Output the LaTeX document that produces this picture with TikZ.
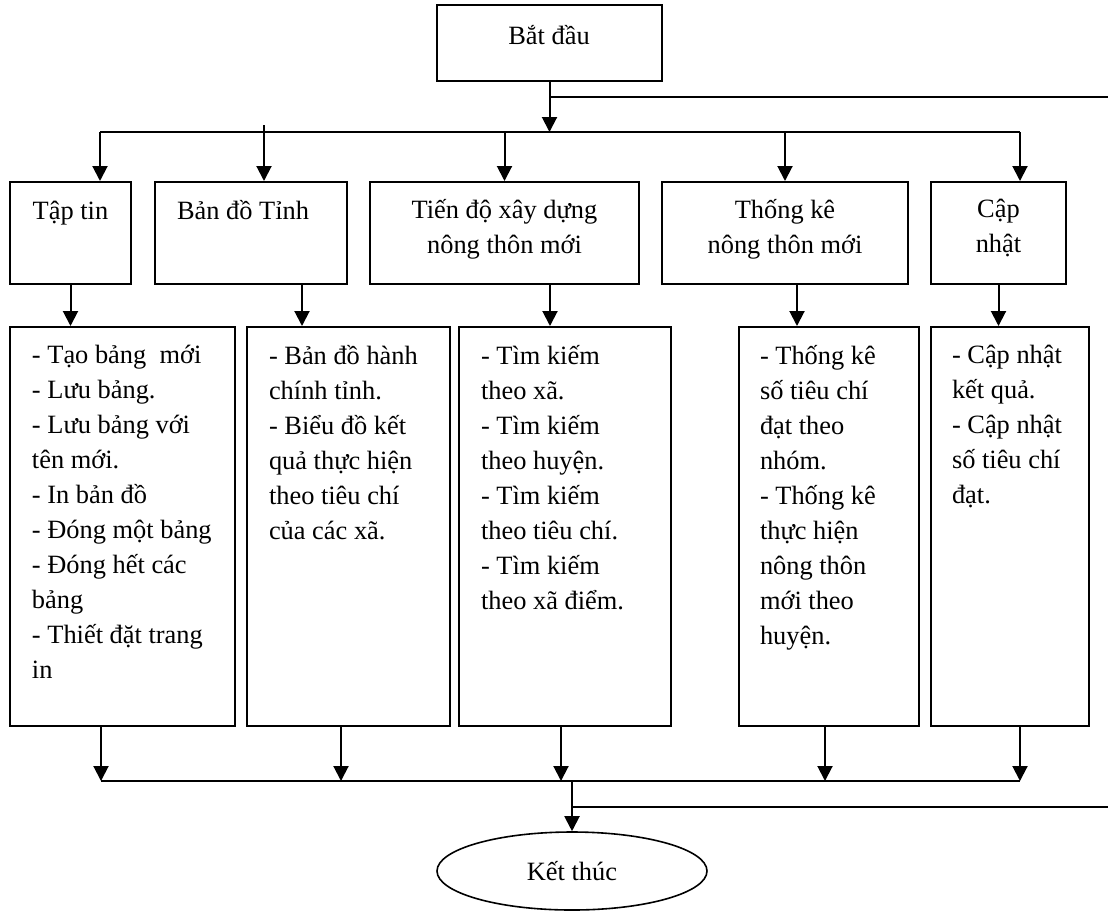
\documentclass[tikz,border=0pt]{standalone}
\usepackage{fontspec}
\setmainfont{Liberation Serif}
\usetikzlibrary{arrows.meta,shapes.geometric}

\tikzset{
  khung/.style={draw,inner sep=0pt},
  hang2/.style={khung,minimum height=51pt},
  hang3/.style={khung,minimum height=199.5pt},
  chu/.style={inner sep=0pt,font=\fontsize{13.2}{17.5}\selectfont,execute at begin node=\strut},
}

\begin{document}
\begin{tikzpicture}[x=0.5pt,y=-0.5pt,line width=1pt,>={Triangle[length=7.5pt,width=7.5pt]}]
      \useasboundingbox (0,0) rectangle (1108,911);
      \draw
        (549.5,43) node[khung,minimum width=112.5pt,minimum height=38pt] (bd){}
        (70.5,233) node[hang2,minimum width=60.5pt] (tt){}
        (251,233) node[hang2,minimum width=96pt] (bdt){}
        (504.5,233) node[hang2,minimum width=134.5pt] (td){}
        (785,233) node[hang2,minimum width=123pt] (tk){}
        (998.5,233) node[hang2,minimum width=67.5pt] (cn){}
        (122.5,526.5) node[hang3,minimum width=112.5pt] (ds1){}
        (348.5,526.5) node[hang3,minimum width=101.5pt] (ds2){}
        (565,526.5) node[hang3,minimum width=106pt] (ds3){}
        (829,526.5) node[hang3,minimum width=90pt] (ds4){}
        (1010,526.5) node[hang3,minimum width=79pt] (ds5){}
        (572,871) node[ellipse,draw,line width=.8pt,inner sep=0pt,minimum width=135pt,minimum height=39pt,
          font=\fontsize{13.2}{17.5}\selectfont] (kt){Kết thúc};
      % chu trong khung
      \node[chu,anchor=north] (bd-t) at (549,18.5) {Bắt đầu};
      \node[chu,anchor=north,align=center] (tt-t) at (70.5,193.5) {Tập tin};
      \node[chu,anchor=north west,align=left] (bdt-t) at (176,193.5) {Bản đồ Tỉnh};
      \node[chu,anchor=north,align=center] (td-t) at (504.5,198.5) {Tiến độ xây dựng\\nông thôn mới};
      \node[chu,anchor=north,align=center] (tk-t) at (785,198.5) {Thống kê\\nông thôn mới};
      \node[chu,anchor=north,align=center] (cn-t) at (998.5,198.5) {Cập\\nhật};
      \node[chu,anchor=north west,align=left] (ds1-t) at (31,344.5)
        {- Tạo bảng~ mới\\- Lưu bảng.\\- Lưu bảng với\\tên mới.\\- In bản đồ\\- Đóng một bảng\\- Đóng hết các\\bảng\\- Thiết đặt trang\\in};
      \node[chu,anchor=north west,align=left] (ds2-t) at (268,344.5)
        {- Bản đồ hành\\chính tỉnh.\\- Biểu đồ kết\\quả thực hiện\\theo tiêu chí\\của các xã.};
      \node[chu,anchor=north west,align=left] (ds3-t) at (480,344.5)
        {- Tìm kiếm\\theo xã.\\- Tìm kiếm\\theo huyện.\\- Tìm kiếm\\theo tiêu chí.\\- Tìm kiếm\\theo xã điểm.};
      \node[chu,anchor=north west,align=left] (ds4-t) at (759,344.5)
        {- Thống kê\\số tiêu chí\\đạt theo\\nhóm.\\- Thống kê\\thực hiện\\nông thôn\\mới theo\\huyện.};
      \node[chu,anchor=north west,align=left] (ds5-t) at (951,344.5)
        {- Cập nhật\\kết quả.\\- Cập nhật\\số tiêu chí\\đạt.};
      % diem noi
      \coordinate (nh1) at (549,97);
      \coordinate (nh1e) at (1108,97);
      \coordinate (bus1a) at (100,132);
      \coordinate (bus1b) at (1020,132);
      \coordinate (c2) at (264,125);
      \coordinate (m2) at (302,284);
      \coordinate (m3) at (550,284);
      \coordinate (m4) at (797,284);
      \coordinate (bus2a) at (101,781);
      \coordinate (bus2b) at (1020,781);
      \coordinate (n2) at (341,726);
      \coordinate (n3) at (561,726);
      \coordinate (n4) at (825,726);
      \coordinate (g2) at (572,781);
      \coordinate (nh2) at (572,807);
      \coordinate (nh2e) at (1108,807);
      \begin{scope}[-]
        \draw (nh1) to (nh1e);
        \draw (bus1a) to (bus1b);
        \draw (bus2a) to (bus2b);
        \draw (nh2) to (nh2e);
      \end{scope}
      \begin{scope}[->]
        \draw (bd) to (bd.south |- bus1a);
        \draw (bus1a) to (bus1a |- tt.north);
        \draw (c2) to (c2 |- bdt.north);
        \draw (td.north |- bus1a) to (td);
        \draw (tk.north |- bus1a) to (tk);
        \draw (bus1b) to (bus1b |- cn.north);
        \draw (tt) to (tt.south |- ds1.north);
        \draw (m2) to (m2 |- ds2.north);
        \draw (m3) to (m3 |- ds3.north);
        \draw (m4) to (m4 |- ds4.north);
        \draw (cn) to (cn.south |- ds5.north);
        \draw (bus2a |- ds1.south) to (bus2a);
        \draw (n2) to (n2 |- bus2a);
        \draw (n3) to (n3 |- bus2a);
        \draw (n4) to (n4 |- bus2a);
        \draw (bus2b |- ds5.south) to (bus2b);
        \draw (g2) to (kt);
      \end{scope}
    \end{tikzpicture}
\end{document}
